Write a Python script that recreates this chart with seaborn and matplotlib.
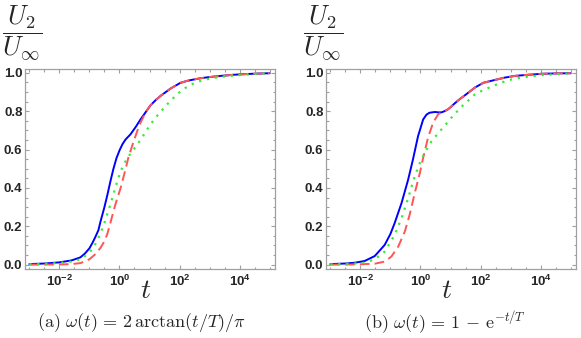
import numpy as np
import matplotlib
matplotlib.use("Agg")
import matplotlib.pyplot as plt
from matplotlib.ticker import NullFormatter
import seaborn as sns

# curves: log10(t) and U2/Uinf
# (a) omega(t) = 2 arctan(t/T)/pi
blue_a_logt = [-3, -2.5, -2, -1.6, -1.3, -1.15, -1.0, -0.9, -0.8, -0.7, -0.63, -0.5, -0.4, -0.3, -0.2,
               -0.1, 0.0, 0.1, 0.2, 0.37, 0.55, 0.7, 0.85, 1.03, 1.2, 1.37, 1.7, 2.03, 2.3, 2.7, 3.0,
               3.37, 3.8, 4.26, 4.6, 5.0]
blue_a = [0.003, 0.006, 0.012, 0.022, 0.038, 0.058, 0.085, 0.113, 0.145, 0.18, 0.225, 0.3, 0.365, 0.435, 0.5,
          0.555, 0.595, 0.628, 0.652, 0.68, 0.72, 0.757, 0.79, 0.83, 0.857, 0.88, 0.918, 0.948, 0.96, 0.972, 0.978,
          0.984, 0.99, 0.994, 0.996, 0.998]
red_a_logt = [-3, -2, -1.6, -1.3, -1.0, -0.8, -0.63, -0.5, -0.4, -0.3, -0.19, -0.1, 0.03, 0.2,
              0.3, 0.42, 0.59, 0.7, 0.78, 0.85, 1.03, 1.2, 1.37, 1.7, 2.03, 2.3, 2.7, 3.0,
              3.37, 3.8, 4.26, 4.6, 5.0]
red_a = [0.0, 0.001, 0.003, 0.008, 0.028, 0.055, 0.088, 0.122, 0.162, 0.218, 0.284, 0.332, 0.395, 0.496,
         0.56, 0.618, 0.696, 0.74, 0.765, 0.79, 0.83, 0.857, 0.88, 0.918, 0.948, 0.96, 0.972, 0.978,
         0.984, 0.99, 0.994, 0.996, 0.998]
green_a_logt = [-3, -2.5, -2, -1.6, -1.3, -1.0, -0.8, -0.63, -0.5, -0.41, -0.3, -0.19, -0.08, 0.03,
                0.15, 0.26, 0.42, 0.59, 0.75, 0.87, 1.03, 1.2, 1.37, 1.53, 1.75, 1.97, 2.2, 2.4,
                2.7, 3.0, 3.37, 3.8, 4.26, 4.6, 5.0]
green_a = [0.002, 0.004, 0.009, 0.016, 0.028, 0.062, 0.108, 0.162, 0.218, 0.262, 0.315, 0.373, 0.43, 0.483,
           0.525, 0.555, 0.59, 0.625, 0.662, 0.692, 0.731, 0.766, 0.797, 0.826, 0.862, 0.895, 0.922, 0.94,
           0.958, 0.97, 0.979, 0.986, 0.991, 0.995, 0.998]

# (b) omega(t) = 1 - exp(-t/T)
blue_b_logt = [-3, -2.5, -2.19, -1.86, -1.52, -1.19, -1.0, -0.86, -0.63, -0.41, -0.25, -0.08, 0.09,
               0.2, 0.3, 0.48, 0.6, 0.7, 0.8, 0.92, 1.03, 1.14, 1.3, 1.48, 1.81, 2.09, 2.48, 2.8,
               3.14, 3.6, 4.03, 4.5, 5.0]
blue_b = [0.003, 0.006, 0.01, 0.019, 0.045, 0.103, 0.16, 0.216, 0.321, 0.443, 0.548, 0.67, 0.757,
          0.782, 0.792, 0.796, 0.794, 0.794, 0.8, 0.81, 0.825, 0.841, 0.862, 0.883, 0.923, 0.948, 0.963, 0.975,
          0.984, 0.99, 0.995, 0.997, 0.998]
red_b_logt = [-3, -2.19, -1.52, -1.19, -0.97, -0.74, -0.52, -0.36, -0.19, -0.02, 0.09, 0.25, 0.42,
              0.59, 0.7, 0.8, 0.92, 1.03, 1.14, 1.3, 1.48, 1.81, 2.09, 2.48, 2.8,
              3.14, 3.6, 4.03, 4.5, 5.0]
red_b = [0.0, 0.001, 0.005, 0.016, 0.042, 0.094, 0.173, 0.26, 0.373, 0.478, 0.557, 0.661, 0.74,
         0.784, 0.794, 0.8, 0.81, 0.825, 0.841, 0.862, 0.883, 0.923, 0.948, 0.963, 0.975,
         0.984, 0.99, 0.995, 0.997, 0.998]
green_b_logt = [-3, -2.5, -2.19, -1.86, -1.52, -1.19, -0.86, -0.63, -0.41, -0.19, -0.02, 0.14, 0.37,
                0.7, 1.03, 1.37, 1.7, 1.81, 2.09, 2.48, 2.8, 3.14, 3.6, 4.03, 4.5, 5.0]
green_b = [0.002, 0.004, 0.006, 0.01, 0.028, 0.068, 0.155, 0.242, 0.347, 0.461, 0.53, 0.583, 0.644,
           0.705, 0.766, 0.824, 0.871, 0.888, 0.91, 0.936, 0.955, 0.97, 0.981, 0.988, 0.993, 0.997]

captions = [r"$\mathrm{(a)}\ \omega(t) \,=\, 2\,\arctan(t/T)/\pi$",
            r"$\mathrm{(b)}\ \omega(t) \,=\, 1 \,-\, \mathrm{e}^{-t/T}$"]
xtick_exps = [-2, 0, 2, 4]
yticks = [0.0, 0.2, 0.4, 0.6, 0.8, 1.0]

sns.set_style("ticks")
plt.rcParams["font.family"] = ["Liberation Sans", "DejaVu Sans"]
plt.rcParams["mathtext.fontset"] = "custom"
plt.rcParams["mathtext.bf"] = "Liberation Sans:bold"
plt.rcParams["mathtext.rm"] = "Liberation Sans"

fig = plt.figure(figsize=(5.81, 3.38), dpi=100)
frame = "#a0a0a0"

panels = [
    (blue_a_logt, blue_a, red_a_logt, red_a, green_a_logt, green_a),
    (blue_b_logt, blue_b, red_b_logt, red_b, green_b_logt, green_b),
]
lefts = [24.5 / 581, 325.5 / 581]

for i, (bx, by, rx, ry, gx, gy) in enumerate(panels):
    ax = fig.add_axes([lefts[i], 1 - 268.5 / 338, 250 / 581, 199.5 / 338])
    ax.set_xscale("log")
    sns.lineplot(x=10.0 ** np.array(bx), y=by, ax=ax, color="#0000ff", lw=1.4)
    sns.lineplot(x=10.0 ** np.array(rx), y=ry, ax=ax, color="#ff5555", lw=1.4,
                 linestyle=(0, (5.0, 2.6)))
    sns.lineplot(x=10.0 ** np.array(gx), y=gy, ax=ax, color="#33ee33", lw=1.6,
                 linestyle=(0, (1.0, 2.6)))

    ax.set_xlim(10 ** -3.16, 10 ** 5.16)
    ax.set_ylim(-0.02, 1.02)
    ax.set_xticks([10.0 ** e for e in xtick_exps],
                  [r"$\mathbf{10^{%d}}$" % e for e in xtick_exps])
    ax.set_xticks([10.0 ** (k / 2) for k in range(-6, 11) if (k / 2) not in xtick_exps], minor=True)
    ax.xaxis.set_minor_formatter(NullFormatter())
    ax.set_yticks(yticks, ["%.1f" % v for v in yticks])
    ax.set_yticks(np.arange(0, 1.001, 0.05), minor=True)
    ax.tick_params(which="both", direction="in", top=True, right=True, color=frame,
                   labelsize=9.5, width=0.8)
    ax.tick_params(which="major", length=3.2)
    ax.tick_params(which="minor", length=1.8)
    ax.tick_params(axis="x", pad=4)
    ax.tick_params(axis="y", pad=1.5)
    for lab in ax.get_yticklabels():
        lab.set_fontweight("bold")
    for sp in ax.spines.values():
        sp.set_color(frame)
        sp.set_linewidth(0.9)
    ax.set_xlabel("")
    ax.set_ylabel("")

    off = 301 * i
    fig.text((22 + off) / 581, 1 - 33 / 338, r"$\dfrac{U_2}{U_\infty}$", fontsize=19,
             ha="center", va="center", math_fontfamily="cm")
    fig.text((146 + off) / 581, 1 - 291 / 338, r"$t$", fontsize=20,
             ha="center", va="center", math_fontfamily="cm")
    fig.text((141 + 304 * i) / 581, 1 - 323 / 338, captions[i], fontsize=13,
             ha="center", va="center", math_fontfamily="cm")

fig.savefig("out.png", dpi=100)
